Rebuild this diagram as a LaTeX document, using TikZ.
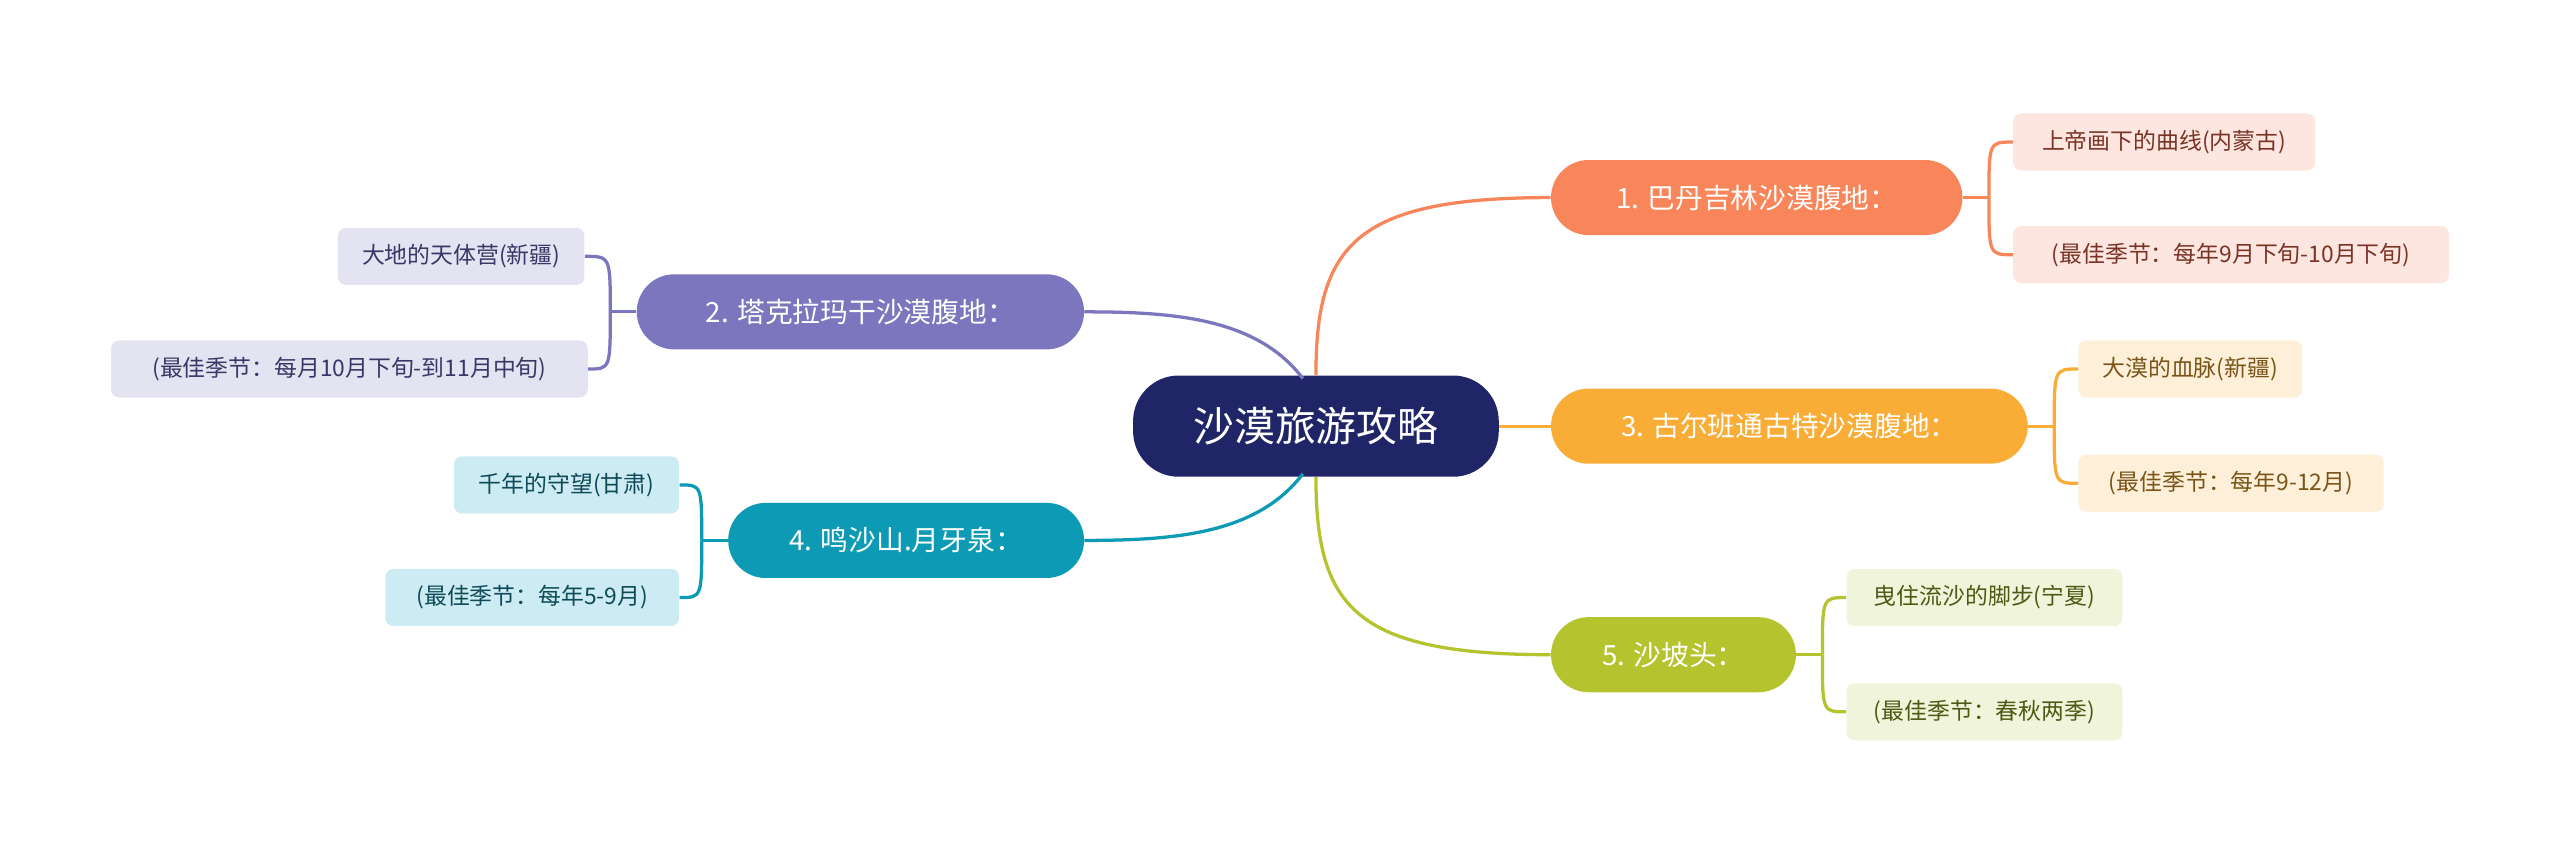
\documentclass[tikz,border=0pt]{standalone}
\usepackage{fontspec}
\setmainfont{Noto Sans CJK SC}
\usetikzlibrary{calc}
\definecolor{cnavy}{HTML}{1F2566}
\definecolor{cA}{HTML}{F8865A}\definecolor{cAl}{HTML}{FDE6DF}\definecolor{cAt}{HTML}{7A3426}
\definecolor{cB}{HTML}{F9AD36}\definecolor{cBl}{HTML}{FEF0D8}\definecolor{cBt}{HTML}{7A5418}
\definecolor{cC}{HTML}{B5C42E}\definecolor{cCl}{HTML}{F0F4DA}\definecolor{cCt}{HTML}{4E5814}
\definecolor{cD}{HTML}{7B76BE}\definecolor{cDl}{HTML}{E4E3F1}\definecolor{cDt}{HTML}{3A3766}
\definecolor{cE}{HTML}{0C9AB5}\definecolor{cEl}{HTML}{CDEBF2}\definecolor{cEt}{HTML}{0E4A57}
\tikzset{
 br/.style={rounded corners=23pt,minimum height=46pt,inner sep=0pt,text=white,font=\fontsize{17}{20}\selectfont},
 lf/.style={rounded corners=5pt,minimum height=35pt,inner sep=0pt,font=\fontsize{14}{17}\selectfont},
 ln/.style={line width=2pt}
}
\begin{document}
\begin{tikzpicture}[x=1pt,y=-1pt]
\useasboundingbox[fill=white] (0,0) rectangle (1568,523);
\node[fill=cnavy,rounded corners=28pt,minimum width=224pt,minimum height=62pt,inner sep=0pt,text=white,font=\fontsize{25}{30}\selectfont] (cn) at (806,261) {沙漠旅游攻略};
% branches
\node[br,fill=cA,minimum width=252pt] (b1) at (1076,121) {1. 巴丹吉林沙漠腹地：};
\node[br,fill=cB,minimum width=292pt] (b3) at (1096,261) {3. 古尔班通古特沙漠腹地：};
\node[br,fill=cC,minimum width=150pt] (b5) at (1025,401) {5. 沙坡头：};
\node[br,fill=cD,minimum width=274pt] (b2) at (527,191) {2. 塔克拉玛干沙漠腹地：};
\node[br,fill=cE,minimum width=218pt] (b4) at (555,331) {4. 鸣沙山.月牙泉：};
% leaves
\node[lf,fill=cAl,text=cAt,minimum width=185pt] (l1a) at (1325.5,87) {上帝画下的曲线(内蒙古)};
\node[lf,fill=cAl,text=cAt,minimum width=267pt] (l1b) at (1366.5,156) {(最佳季节：每年9月下旬-10月下旬)};
\node[lf,fill=cBl,text=cBt,minimum width=137pt] (l3a) at (1341.5,226) {大漠的血脉(新疆)};
\node[lf,fill=cBl,text=cBt,minimum width=187pt] (l3b) at (1366.5,296) {(最佳季节：每年9-12月)};
\node[lf,fill=cCl,text=cCt,minimum width=169pt] (l5a) at (1215.5,366) {曳住流沙的脚步(宁夏)};
\node[lf,fill=cCl,text=cCt,minimum width=169pt] (l5b) at (1215.5,436) {(最佳季节：春秋两季)};
\node[lf,fill=cDl,text=cDt,minimum width=151pt] (l2a) at (282.5,157) {大地的天体营(新疆)};
\node[lf,fill=cDl,text=cDt,minimum width=292pt] (l2b) at (214,226) {(最佳季节：每月10月下旬-到11月中旬)};
\node[lf,fill=cEl,text=cEt,minimum width=138pt] (l4a) at (347,297) {千年的守望(甘肃)};
\node[lf,fill=cEl,text=cEt,minimum width=180pt] (l4b) at (326,366) {(最佳季节：每年5-9月)};
% center connectors
\draw[ln,cA] (cn.north) .. controls (806,150) and (830,121) .. (b1.west);
\draw[ln,cB] (cn.east) -- (b3.west);
\draw[ln,cC] (cn.south) .. controls (806,372) and (830,401) .. (b5.west);
\draw[ln,cD] ($(cn.north)+(-8,2)$) .. controls (770,195) and (720,191) .. (b2.east);
\draw[ln,cE] ($(cn.south)+(-8,-2)$) .. controls (770,327) and (720,331) .. (b4.east);
% leaf connectors
\foreach \b/\a/\c/\col/\d in {b1/l1a/l1b/cA/16,b3/l3a/l3b/cB/16,b5/l5a/l5b/cC/16,b2/l2a/l2b/cD/-16,b4/l4a/l4b/cE/-16}{
 \coordinate (j) at ($(\b.east)+(\d,0)$);
 \ifnum\d<0 \coordinate (j) at ($(\b.west)+(\d,0)$); \draw[ln,\col] (\b.west) -- (j);
  \draw[ln,\col] (j) .. controls (j|-\a.east) .. (\a.east);
  \draw[ln,\col] (j) .. controls (j|-\c.east) .. (\c.east);
 \else \draw[ln,\col] (\b.east) -- (j);
  \draw[ln,\col] (j) .. controls (j|-\a.west) .. (\a.west);
  \draw[ln,\col] (j) .. controls (j|-\c.west) .. (\c.west);
 \fi
}
\end{tikzpicture}
\end{document}
